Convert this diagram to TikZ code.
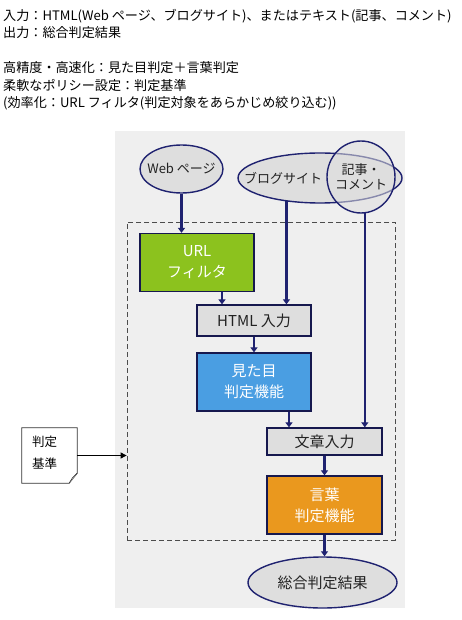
\documentclass[tikz,border=0pt]{standalone}
\usepackage{fontspec}
\setmainfont{Noto Sans CJK JP}
\usetikzlibrary{arrows.meta,positioning,shapes.geometric,calc}
\definecolor{flownavy}{HTML}{1F2270}
\definecolor{flowgreen}{HTML}{8CC21E}
\definecolor{flowblue}{HTML}{4A9EE2}
\definecolor{floworange}{HTML}{EA981E}
\definecolor{flowpanel}{HTML}{EFEFEF}
\definecolor{flowgray}{HTML}{DEDEDE}
\definecolor{flowdark}{HTML}{222222}
\tikzset{
  box/.style={draw=flownavy!70!black,line width=1.3pt,align=center,inner sep=2pt,minimum width=114pt,font=\fontsize{15}{21}\selectfont},
  funcbox/.style={box,text=white,minimum height=58pt},
  inbox/.style={box,fill=flowgray,text=flowdark,minimum height=31pt},
  src/.style={ellipse,draw=flownavy,line width=1.4pt,fill=flowgray,inner sep=0pt,align=center,text=flowdark,font=\fontsize{13}{15}\selectfont},
  corebox/.style={draw=black!70,line width=0.8pt,dash pattern=on 5pt off 3pt},
  notebox/.style={draw=black!80,line width=0.8pt,fill=white},
  spectext/.style={align=left,inner sep=0pt,font=\fontsize{13.1}{17.5}\selectfont},
  ar/.style={-{Triangle[length=5pt,width=7pt]},draw=flownavy,line width=2.4pt},
  arthin/.style={-{Triangle[length=6pt,width=6pt]},draw=black,line width=1pt},
}
\begin{document}
\begin{tikzpicture}[x=1pt,y=-1pt]
  \useasboundingbox (0,0) rectangle (462,620);
  \node[spectext,anchor=north west] (spec) at (3,9) {入力：HTML(Web ページ、ブログサイト)、またはテキスト(記事、コメント)\\出力：総合判定結果\\[17.5pt]高精度・高速化：見た目判定＋言葉判定\\柔軟なポリシー設定：判定基準\\(効率化：URL フィルタ(判定対象をあらかじめ絞り込む))};
  \fill[flowpanel] (115,131) rectangle (405,608);
  \node[corebox,minimum width=268pt,minimum height=318pt] (core) at (261,381) {};
  % sources
  \node[src,minimum width=83pt,minimum height=48pt] (web) at (181.5,169) {\makebox[0pt]{Web ページ}};
  \node[src,minimum width=164pt,minimum height=50pt] (blog) at (320,178) {\makebox[0pt][r]{ブログサイト\hspace{-2pt}}};
  \node[src,fill opacity=0.55,text opacity=1,inner xsep=-3pt,minimum width=68pt,minimum height=72pt] (cmt) at (361,177) {記事・\\コメント};
  % flow
  \node[funcbox,fill=flowgreen] (url) at (197,262.5) {URL\\フィルタ};
  \node[inbox] (htmlin) at (254,320.5) {HTML 入力};
  \node[funcbox,fill=flowblue] (look) at (254,382) {見た目\\判定機能};
  \node[inbox,minimum width=115pt,minimum height=27pt] (textin) at (324.5,441.5) {文章入力};
  \node[funcbox,fill=floworange,minimum width=115pt] (word) at (324.5,505) {言葉\\判定機能};
  \node[src,minimum width=149pt,minimum height=51pt,font=\fontsize{15}{18}\selectfont] (result) at (322.5,582.5) {総合判定結果};
  % criteria note
  \node[minimum width=55pt,minimum height=55pt,inner sep=0pt] (crit) at (49.5,455.5) {};
  \draw[notebox] (crit.north west) -- (crit.north east) -- ([yshift=10pt]crit.south east) -- ([xshift=-8pt]crit.south east) -- (crit.south west) -- cycle;
  \draw[black!80,line width=0.6pt,fill=black!10] ([yshift=10pt]crit.south east) -- ([xshift=-5pt,yshift=5pt]crit.south east) -- ([xshift=-8pt]crit.south east);
  \node[anchor=north west,align=left,inner sep=0pt,font=\fontsize{12.5}{22}\selectfont] (critlabel) at ([xshift=10pt,yshift=-8pt]crit.north west) {判定\\基準};
  % arrows
  \draw[ar] (web.south) -- (web.south |- url.north);
  \draw[ar] (blog.215.7) -- (blog.215.7 |- htmlin.north);
  \draw[ar] (cmt.276) -- (cmt.276 |- textin.north);
  \draw[ar] ([xshift=25pt]url.south) -- ([xshift=25pt]url.south |- htmlin.north);
  \draw[ar] (htmlin.south) -- (look.north);
  \draw[ar] ([xshift=35pt]look.south) -- ([xshift=35pt]look.south |- textin.north);
  \draw[ar] (textin.south) -- (word.north);
  \draw[ar] (word.south) -- (word.south |- result.north);
  \draw[arthin] (crit.east) -- (crit.east -| core.west);
\end{tikzpicture}
\end{document}
